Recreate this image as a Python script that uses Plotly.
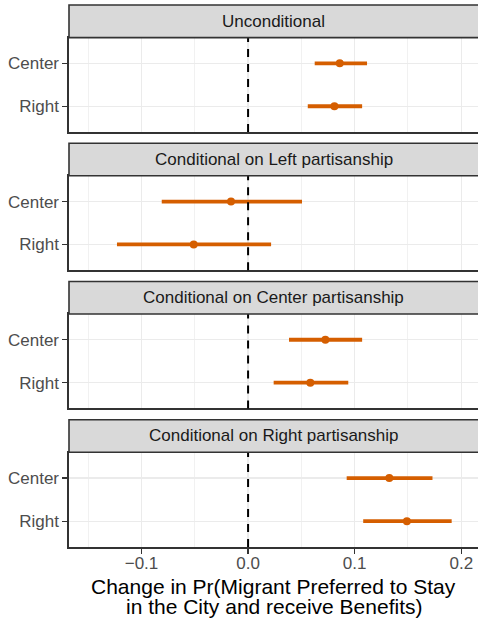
import plotly.graph_objects as go
from plotly.subplots import make_subplots

panels = ["Unconditional", "Conditional on Left partisanship",
          "Conditional on Center partisanship", "Conditional on Right partisanship"]
groups = ["Center", "Right"]
est_center = [0.086, -0.016, 0.0725, 0.1325]
est_right = [0.081, -0.051, 0.0584, 0.149]
lo_center = [0.0625, -0.081, 0.0384, 0.0925]
lo_right = [0.056, -0.123, 0.024, 0.108]
hi_center = [0.1116, 0.0506, 0.107, 0.173]
hi_right = [0.107, 0.0216, 0.094, 0.191]
x_ticks = [-0.1, 0.0, 0.1, 0.2]
x_tick_labels = ["\u22120.1", "0.0", "0.1", "0.2"]

W, H = 478, 620
ML, MR, MT, MB = 69, 0, 0, 73
PH = H - MT - MB

def py(px):
    return 1 - (px - MT) / PH

panel_px = [(37.6, 132.0), (175.8, 270.2), (314.0, 408.4), (452.2, 547.0)]
strip_px = [(5.0, 37.6), (143.3, 175.8), (281.5, 314.0), (419.7, 452.2)]

ORANGE = "#D55E00"
GRID = "#EBEBEB"
BORDER = "#333333"

fig = make_subplots(rows=4, cols=1, shared_xaxes=False)

for i in range(4):
    est = [est_center[i], est_right[i]]
    lo = [lo_center[i], lo_right[i]]
    hi = [hi_center[i], hi_right[i]]
    fig.add_trace(go.Scatter(
        x=est, y=groups, mode="markers",
        marker=dict(color=ORANGE, size=8),
        error_x=dict(type="data", symmetric=False,
                     array=[h - e for h, e in zip(hi, est)],
                     arrayminus=[e - l for e, l in zip(est, lo)],
                     color=ORANGE, thickness=3.8, width=0),
        showlegend=False, hoverinfo="skip"), row=i + 1, col=1)

axis_font = dict(family="Liberation Sans, Arial, sans-serif", size=17, color="#4D4D4D")
for i in range(4):
    n = "" if i == 0 else str(i + 1)
    top, bot = panel_px[i]
    last = (i == 3)
    fig.layout["xaxis" + n].update(
        domain=[0, 1], range=[-0.168, 0.2157],
        tickvals=x_ticks, ticktext=x_tick_labels,
        showticklabels=last, ticks="outside" if last else "",
        ticklen=5, tickwidth=1.2, tickcolor=BORDER, tickfont=axis_font,
        ticklabelstandoff=-5,
        showgrid=True, gridcolor=GRID, gridwidth=1.2, zeroline=False,
        minor=dict(dtick=0.1, tick0=0.05, showgrid=True, gridcolor=GRID, gridwidth=0.7),
        showline=True, mirror=True, linecolor=BORDER, linewidth=1.6)
    fig.layout["yaxis" + n].update(
        domain=[py(bot), py(top)],
        type="category", categoryorder="array", categoryarray=groups,
        range=[1.6, -0.6],
        ticks="outside", ticklen=5, tickwidth=1.2, tickcolor=BORDER, tickfont=axis_font,
        showgrid=True, gridcolor=GRID, gridwidth=1.2, zeroline=False,
        showline=True, mirror=False, linecolor=BORDER, linewidth=1.6)
    xr = "x" + n
    fig.add_shape(type="line", xref=xr, yref="y" + n + " domain",
                  x0=0, x1=0, y0=0, y1=1,
                  line=dict(color="black", width=2, dash="8px,7px"))
    s_top, s_bot = strip_px[i]
    fig.add_shape(type="rect", xref="paper", yref="paper",
                  x0=0, x1=1.02, y0=py(s_bot), y1=py(s_top),
                  fillcolor="#D9D9D9", line=dict(color=BORDER, width=1.6))
    fig.add_annotation(text=panels[i], xref="paper", yref="paper",
                       x=0.5, y=(py(s_bot) + py(s_top)) / 2,
                       xanchor="center", yanchor="middle", showarrow=False,
                       font=dict(family="Liberation Sans, Arial, sans-serif", size=17, color="#1A1A1A"))

title_font = dict(family="Liberation Sans, Arial, sans-serif", size=21, color="black")
fig.add_annotation(text="Change in Pr(Migrant Preferred to Stay", xref="paper", yref="paper",
                   x=0.5, y=py(586), xanchor="center", yanchor="middle",
                   showarrow=False, font=title_font)
fig.add_annotation(text="in the City and receive Benefits)", xref="paper", yref="paper",
                   x=0.5, y=py(606), xanchor="center", yanchor="middle",
                   showarrow=False, font=title_font)

fig.update_layout(width=W, height=H,
                  margin=dict(l=ML, r=MR, t=MT, b=MB, autoexpand=False),
                  paper_bgcolor="white", plot_bgcolor="white")

fig.write_html("out.html", config={"displayModeBar": False, "staticPlot": True},
               post_script="document.body.style.margin='0';document.body.style.overflow='hidden';")
